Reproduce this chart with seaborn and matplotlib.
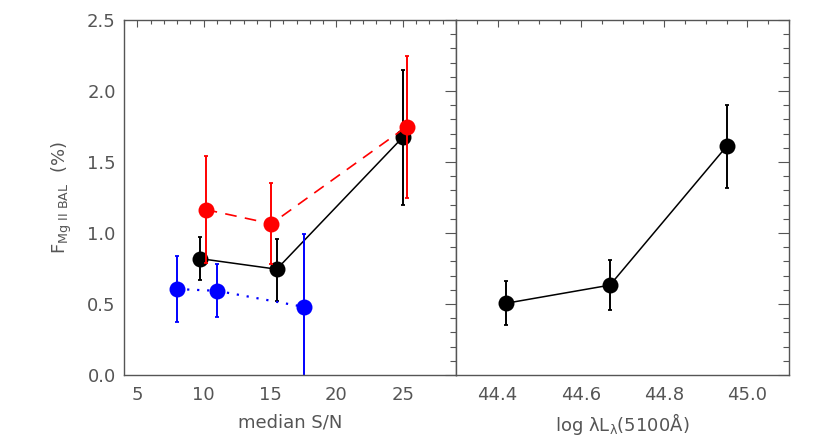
import numpy as np
import pandas as pd
import matplotlib
matplotlib.use('Agg')
import matplotlib.pyplot as plt
from matplotlib.ticker import MultipleLocator
import seaborn as sns

# left panel : median S/N
sn_black = [9.7, 15.5, 25.0]
f_black = [0.82, 0.745, 1.675]
up_black = [0.97, 0.96, 2.15]
lo_black = [0.67, 0.52, 1.20]

sn_red = [10.15, 15.1, 25.3]
f_red = [1.165, 1.065, 1.75]
up_red = [1.54, 1.35, 2.25]
lo_red = [0.79, 0.78, 1.25]

sn_blue = [8.0, 11.0, 17.55]
f_blue = [0.605, 0.593, 0.48]
up_blue = [0.835, 0.78, 0.99]
lo_blue = [0.37, 0.41, -0.05]

# right panel : log lambda L_lambda(5100A)
lum = [44.42, 44.67, 44.95]
f_lum = [0.505, 0.633, 1.61]
up_lum = [0.66, 0.81, 1.90]
lo_lum = [0.35, 0.46, 1.315]

sns.set_style('white')
plt.rcParams['font.family'] = ['DejaVu Sans']
plt.rcParams['mathtext.fontset'] = 'dejavusans'
txt = '#555555'

fig = plt.figure(figsize=(8.3, 4.42), dpi=100)
ax1 = fig.add_axes([124/830, 67/442, 332/830, 355/442])
ax2 = fig.add_axes([456/830, 67/442, 333/830, 355/442])


def draw(ax, x, y, up, lo, col, ls, lw):
    df = pd.DataFrame({'x': x, 'y': y, 'up': up, 'lo': lo})
    ax.errorbar(df['x'], df['y'], yerr=[df['y'] - df['lo'], df['up'] - df['y']],
                fmt='none', ecolor=col, elinewidth=1.4, capsize=1.5, capthick=1.3)
    sns.lineplot(data=df, x='x', y='y', ax=ax, color=col, linestyle=ls, lw=lw,
                 marker='o', markersize=11.5, markeredgewidth=0, sort=False)


draw(ax1, sn_black, f_black, up_black, lo_black, 'black', '-', 1.1)
draw(ax1, sn_red, f_red, up_red, lo_red, '#ff0000', (0, (7, 5)), 1.2)
draw(ax1, sn_blue, f_blue, up_blue, lo_blue, '#0000ff', (0, (1, 3.5)), 1.6)
draw(ax2, lum, f_lum, up_lum, lo_lum, 'black', '-', 1.1)

ax1.set_xlim(4, 29)
ax2.set_xlim(44.3, 45.1)
for ax in (ax1, ax2):
    ax.set_ylim(0, 2.5)
    ax.yaxis.set_major_locator(MultipleLocator(0.5))
    ax.yaxis.set_minor_locator(MultipleLocator(0.1))
    ax.tick_params(axis='both', which='both', direction='in', top=True, right=True,
                   colors='#555555', labelcolor=txt, labelsize=13)
    ax.tick_params(axis='x', which='major', length=5, width=0.8, pad=8)
    ax.tick_params(axis='x', which='minor', length=3, width=0.8)
    ax.tick_params(axis='y', which='major', length=8, width=0.8, pad=6)
    ax.tick_params(axis='y', which='minor', length=4, width=0.8)
    for s in ax.spines.values():
        s.set_color('#555555')
        s.set_linewidth(1.0)
    ax.set_ylabel('')

ax1.xaxis.set_major_locator(MultipleLocator(5))
ax1.xaxis.set_minor_locator(MultipleLocator(1))
ax1.yaxis.set_major_formatter(plt.FuncFormatter(lambda v, p: f'{v:.1f}'))
ax2.xaxis.set_major_locator(MultipleLocator(0.2))
ax2.xaxis.set_minor_locator(MultipleLocator(0.05))
ax2.xaxis.set_major_formatter(plt.FuncFormatter(lambda v, p: f'{v:.1f}'))
ax2.tick_params(axis='y', labelleft=False)

ax1.set_xlabel('median S/N', fontsize=13, color=txt, labelpad=7)
ax2.set_xlabel(r'log λL$_\mathrm{λ}$(5100Å)', fontsize=13, color=txt, labelpad=5)
ax1.set_ylabel(r'F$_{\rm Mg\ II\ BAL}$  (%)', fontsize=13, color=txt, labelpad=9)

fig.savefig('out.png', dpi=100)
